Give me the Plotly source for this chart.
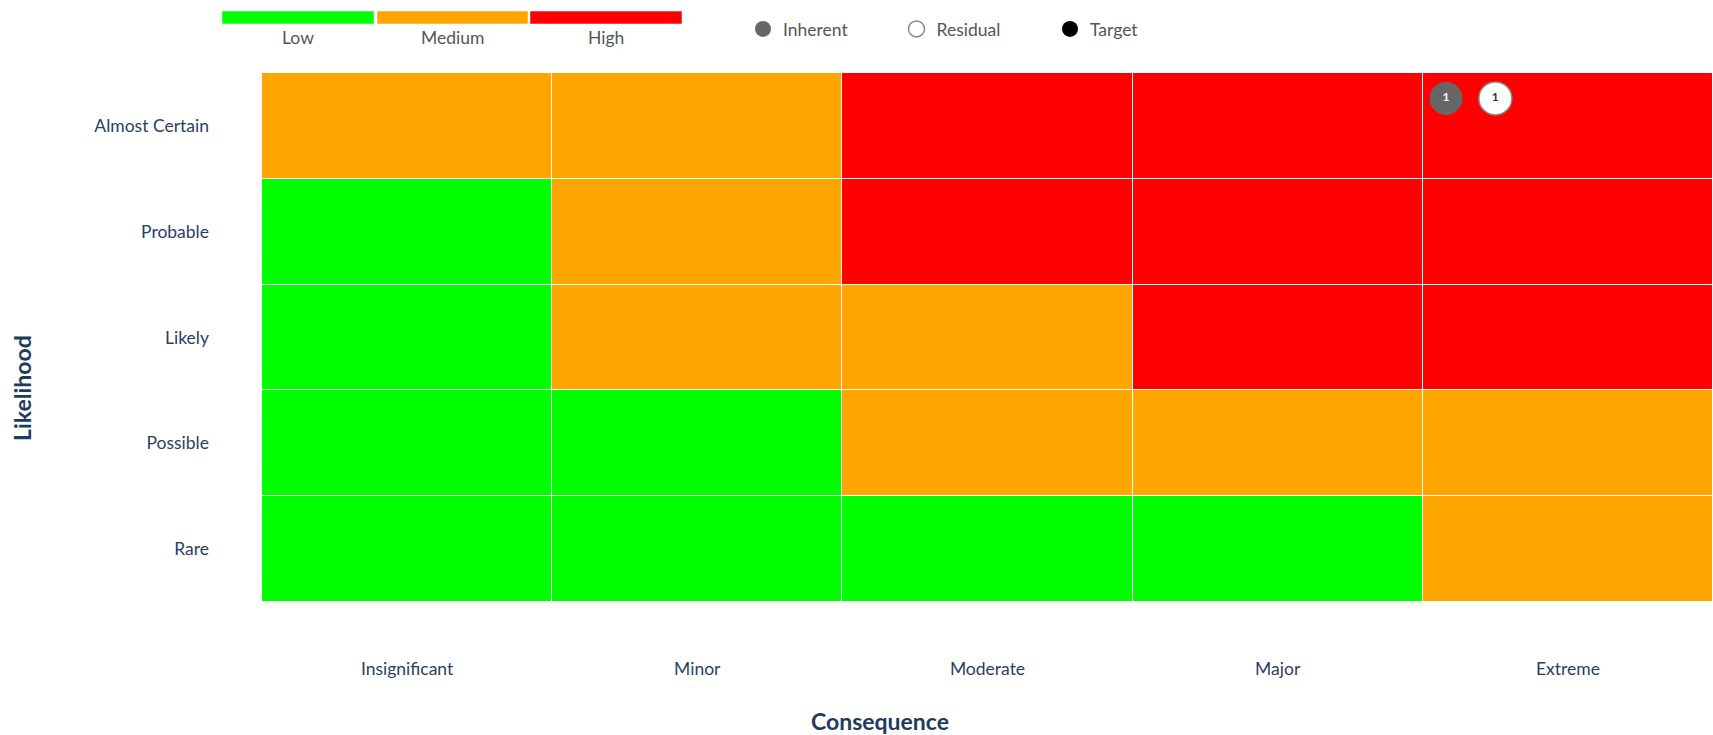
import plotly.graph_objects as go

# ---------------- data ----------------
consequence = ["Insignificant", "Minor", "Moderate", "Major", "Extreme"]
likelihood = ["Rare", "Possible", "Likely", "Probable", "Almost Certain"]  # bottom -> top
levels = ["Low", "Medium", "High"]
level_colors = ["#00FF00", "#FFA500", "#FF0000"]

# risk level per cell, rows bottom (Rare) -> top (Almost Certain)
matrix = [
    ["Low", "Low", "Low", "Low", "Medium"],            # Rare
    ["Low", "Low", "Medium", "Medium", "Medium"],      # Possible
    ["Low", "Medium", "Medium", "High", "High"],       # Likely
    ["Low", "Medium", "High", "High", "High"],         # Probable
    ["Medium", "Medium", "High", "High", "High"],      # Almost Certain
]

inherent_cons = ["Extreme"]
inherent_like = ["Almost Certain"]
inherent_ids = ["1"]
residual_cons = ["Extreme"]
residual_like = ["Almost Certain"]
residual_ids = ["1"]
target_cons = []
target_like = []
target_ids = []

# ---------------- layout constants ----------------
W, H = 1713, 735
ML, MR, MT, MB = 262, 0, 73, 133
PW, PH = W - ML - MR, H - MT - MB
FONT = "Lato"


def px_x(px):
    return (px - ML) / PW


def px_y(py):
    return (H - MB - py) / PH


z = [[levels.index(v) / 2 for v in row] for row in matrix]

fig = go.Figure()
fig.add_trace(go.Heatmap(
    z=z, x=list(range(len(consequence))), y=list(range(len(likelihood))),
    colorscale=[[0, level_colors[0]], [0.5, level_colors[1]], [1, level_colors[2]]],
    zmin=0, zmax=1, showscale=False, xgap=1, ygap=1, hoverinfo="skip",
    showlegend=False,
))

DX_INH, DX_RES, DY = -0.42, -0.25, 0.26


def pts(cons, like, dx):
    xs = [consequence.index(c) + dx for c in cons] or [None]
    ys = [likelihood.index(l) + DY for l in like] or [None]
    return xs, ys


x, y = pts(inherent_cons, inherent_like, DX_INH)
fig.add_trace(go.Scatter(
    x=x, y=y, text=inherent_ids, mode="markers+text", name="Inherent",
    marker=dict(size=33, color="#666666", line=dict(width=0)),
    textfont=dict(color="white", size=12, family=FONT, weight="bold"), textposition="middle center",
))
x, y = pts(residual_cons, residual_like, DX_RES)
fig.add_trace(go.Scatter(
    x=x, y=y, text=residual_ids, mode="markers+text", name="Residual",
    marker=dict(size=33, color="white", line=dict(width=1.5, color="#888888")),
    textfont=dict(color="#333333", size=12, family=FONT, weight="bold"), textposition="middle center",
))
x, y = pts(target_cons, target_like, 0)
fig.add_trace(go.Scatter(
    x=x, y=y, text=target_ids, mode="markers", name="Target",
    marker=dict(size=33, color="black"),
))

# colour key at top
shapes = []
annotations = []
bar_left = [222, 377, 530]
bar_right = [374, 528, 682]
for i, lv in enumerate(levels):
    shapes.append(dict(type="rect", xref="paper", yref="paper",
                       x0=px_x(bar_left[i]), x1=px_x(bar_right[i]),
                       y0=px_y(24), y1=px_y(11),
                       fillcolor=level_colors[i], line=dict(width=1, color="rgba(255,255,255,0.5)")))
    annotations.append(dict(xref="paper", yref="paper",
                            x=px_x((bar_left[i] + bar_right[i]) / 2), y=px_y(37),
                            text=lv, showarrow=False, xanchor="center", yanchor="middle",
                            font=dict(family=FONT, size=17.5, color="#555555")))

annotations.append(dict(xref="paper", yref="paper", x=px_x(22), y=px_y(388),
                        text="<b>Likelihood</b>", textangle=-90, showarrow=False,
                        xanchor="center", yanchor="middle",
                        font=dict(family=FONT, size=23, color="#1f3b5c")))
annotations.append(dict(xref="paper", yref="paper", x=px_x(880), y=px_y(721),
                        text="<b>Consequence</b>", showarrow=False,
                        xanchor="center", yanchor="middle",
                        font=dict(family=FONT, size=23, color="#1f3b5c")))

fig.update_layout(
    width=W, height=H,
    margin=dict(l=ML, r=MR, t=MT, b=MB),
    paper_bgcolor="white", plot_bgcolor="white",
    font=dict(family=FONT, size=17.5, color="#2a3f5f"),
    xaxis=dict(range=[-0.5, 4.5], tickvals=list(range(len(consequence))), ticktext=consequence,
               showgrid=False, zeroline=False, showline=False, ticks="",
               ticklabelstandoff=54, fixedrange=True),
    yaxis=dict(range=[-0.5, 4.5], tickvals=list(range(len(likelihood))), ticktext=likelihood,
               showgrid=False, zeroline=False, showline=False, ticks="",
               ticklabelstandoff=52, fixedrange=True),
    legend=dict(orientation="h", x=px_x(743), y=px_y(29), xanchor="left", yanchor="middle",
                font=dict(family=FONT, size=17.5, color="#555555"),
                entrywidth=108.5, entrywidthmode="pixels", bgcolor="rgba(0,0,0,0)"),
    shapes=shapes, annotations=annotations,
)

fig.write_html("out.html")
